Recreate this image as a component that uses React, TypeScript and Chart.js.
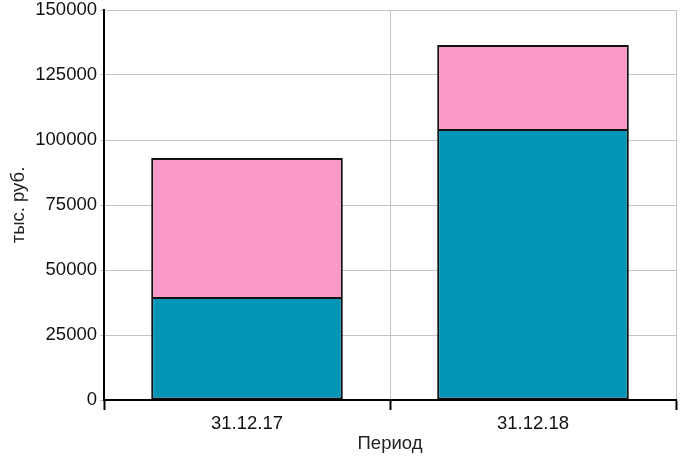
import { useEffect, useRef } from 'react'
import { Chart, registerables } from 'chart.js'

Chart.register(...registerables)

// Values (тыс. руб.)
const periods = ['31.12.17', '31.12.18']
const lowerPart = [39600, 104200]
const upperPart = [53500, 32300]

const FONT = 'Arial, "Liberation Sans", sans-serif'

const App = () => {
  const chartRef = useRef<HTMLCanvasElement | null>(null)

  useEffect(() => {
    const ctx = chartRef.current?.getContext('2d')
    if (!ctx) return

    new Chart(ctx, {
      type: 'bar',
      data: {
        labels: periods,
        datasets: [
          {
            label: 'Часть 1',
            data: lowerPart,
            backgroundColor: '#0294b4',
            borderColor: '#111111',
            borderWidth: 2,
            borderSkipped: false,
          },
          {
            label: 'Часть 2',
            data: upperPart,
            backgroundColor: '#fd99c9',
            borderColor: '#111111',
            // bottom edge is already drawn by the lower segment
            borderWidth: { top: 2, left: 2, right: 2, bottom: 0 },
            borderSkipped: false,
          },
        ],
      },
      options: {
        responsive: true,
        maintainAspectRatio: false,
        animation: false,
        layout: {
          padding: { top: 0, right: 12, bottom: 0, left: 0 },
        },
        datasets: {
          bar: {
            categoryPercentage: 1,
            barPercentage: 0.67,
          },
        },
        plugins: {
          legend: { display: false },
          tooltip: { enabled: false },
        },
        scales: {
          x: {
            stacked: true,
            afterFit: (scale) => {
              scale.height = 58
            },
            border: { display: true, color: '#000000', width: 2 },
            grid: {
              offset: true,
              color: '#c4c4c4',
              lineWidth: 1,
              tickColor: '#000000',
              tickLength: 10,
              tickWidth: 2,
            },
            ticks: {
              color: '#111111',
              padding: 3,
              font: { family: FONT, size: 18.5 },
            },
            title: {
              display: true,
              text: 'Период',
              color: '#222222',
              padding: { top: 0, bottom: 3 },
              font: { family: FONT, size: 18.5 },
            },
          },
          y: {
            stacked: true,
            min: 0,
            max: 150000,
            afterFit: (scale) => {
              scale.width = 104
              scale.paddingTop = 10
            },
            border: { display: true, color: '#000000', width: 2 },
            grid: {
              color: '#c4c4c4',
              lineWidth: 1,
              tickColor: '#c4c4c4',
              tickLength: 4,
            },
            ticks: {
              stepSize: 25000,
              color: '#111111',
              padding: 3,
              font: { family: FONT, size: 18.5 },
              callback: (value) => String(value),
            },
            title: {
              display: true,
              text: 'тыс. руб.',
              color: '#222222',
              padding: { top: 8, bottom: 0 },
              font: { family: FONT, size: 18.5 },
            },
          },
        },
      },
    })

    return () => {
      Chart.getChart(ctx)?.destroy()
    }
  }, [])

  return (
    <div
      style={{
        position: 'absolute',
        left: 0,
        top: 0,
        width: 688,
        height: 458,
        background: '#ffffff',
      }}
    >
      <canvas ref={chartRef} />
    </div>
  )
}

export default App
